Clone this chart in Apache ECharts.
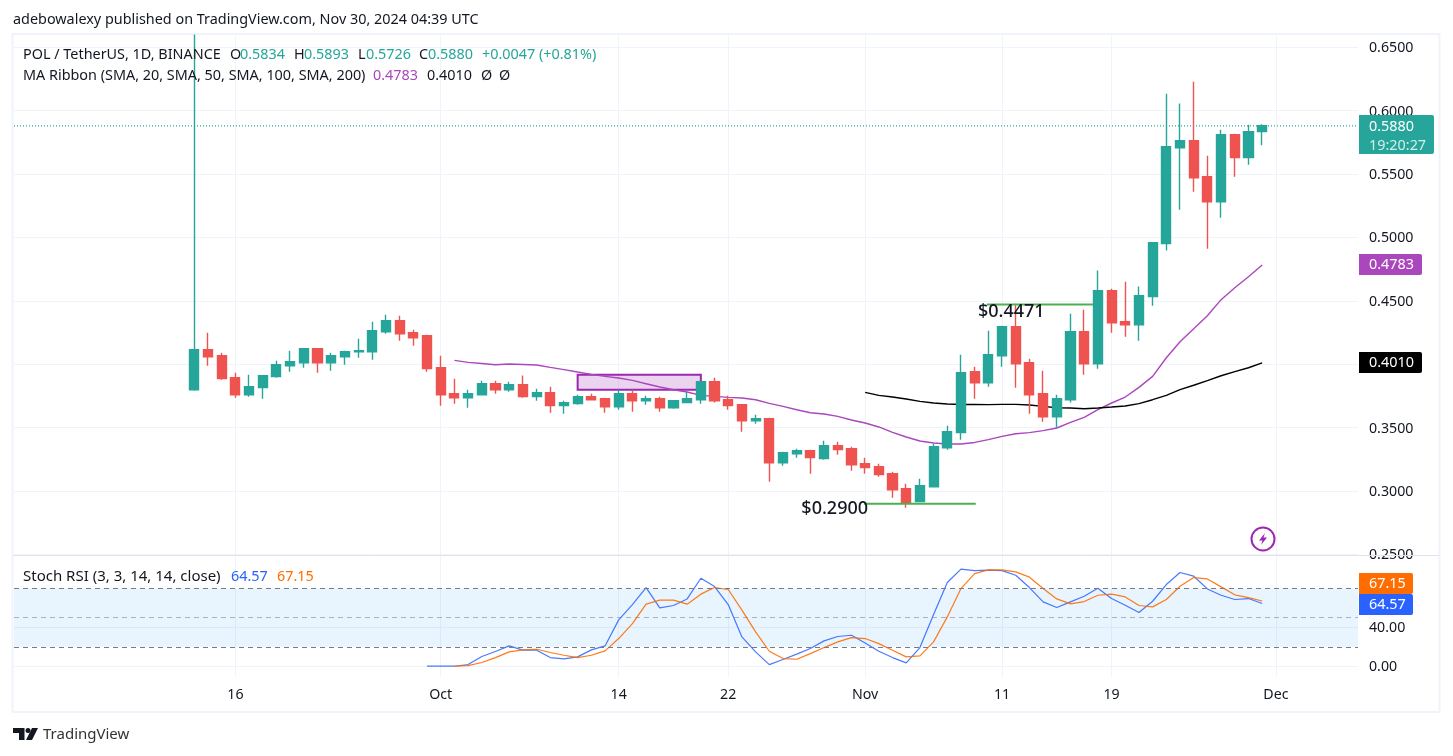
<!DOCTYPE html>
<html>
<head>
<meta charset="utf-8">
<title>POL / TetherUS, 1D</title>
<style>
  html, body { margin: 0; padding: 0; background: #fff; }
  #chart { width: 1453px; height: 756px; }
</style>
<script src="https://cdn.jsdelivr.net/npm/echarts@6/dist/echarts.min.js"></script>
</head>
<body>
<div id="chart"></div>
<script>
// Daily sessions run from Sep 13 (index 0) to Nov 30 (index 78).
const opens = [
  .3799,.4114,.4067,.3894,.3759,.3815,.3902,.3988,.4012,.4122,
  .4012,.4059,.4098,.4098,.4256,.4343,.4248,.4225,.3972,.3767,
  .3736,.3759,.3846,.3799,.3838,.3744,.3775,.3673,.3689,.3744,
  .3728,.3665,.3767,.3712,.3728,.3657,.3697,.3720,.3862,.3720,
  .3681,.3554,.3570,.3223,.3294,.3318,.3255,.3357,.3334,.3215,
  .3192,.3136,.3018,.2916,.3034,.3341,.3460,.3941,.3854,.4067,
  .4296,.4012,.3767,.3586,.3720,.4256,.4004,.4580,.4335,.4311,
  .4533,.4951,.5707,.5763,.5479,.5281,.5810,.5629,.5834
];
const closes = [
  .4114,.4059,.3886,.3759,.3823,.3910,.3996,.4020,.4122,.4012,
  .4067,.4098,.4106,.4264,.4343,.4240,.4209,.3965,.3759,.3736,
  .3767,.3846,.3799,.3838,.3744,.3775,.3673,.3697,.3744,.3720,
  .3665,.3767,.3712,.3728,.3657,.3712,.3728,.3862,.3712,.3673,
  .3554,.3570,.3223,.3302,.3318,.3263,.3357,.3326,.3207,.3184,
  .3129,.3010,.2907,.3042,.3349,.3467,.3933,.3854,.4075,.4296,
  .4004,.3759,.3586,.3728,.4256,.4004,.4580,.4327,.4311,.4541,
  .4959,.5715,.5763,.5471,.5281,.5810,.5629,.5833,.5880
];
const lows = [
  .3791,.3988,.3878,.3736,.3744,.3728,.3894,.3941,.3972,.3933,
  .3949,.3996,.4051,.4035,.4240,.4185,.4146,.3941,.3673,.3689,
  .3657,.3759,.3767,.3783,.3736,.3712,.3618,.3610,.3681,.3720,
  .3618,.3641,.3626,.3681,.3626,.3649,.3697,.3689,.3697,.3641,
  .3468,.3531,.3073,.3199,.3263,.3136,.3247,.3286,.3160,.3136,
  .3113,.2947,.2868,.2916,.3034,.3326,.3405,.3728,.3823,.3980,
  .3815,.3610,.3546,.3499,.3697,.3917,.3965,.4248,.4217,.4185,
  .4461,.4896,.5218,.5360,.4911,.5155,.5479,.5573,.5726
];
const highs = [
  .6600,.4248,.4091,.3933,.3917,.3910,.4028,.4106,.4122,.4122,
  .4091,.4106,.4201,.4335,.4390,.4382,.4272,.4233,.4067,.3886,
  .3799,.3870,.3870,.3862,.3910,.3807,.3823,.3712,.3759,.3767,
  .3736,.3799,.3799,.3751,.3744,.3712,.3783,.3862,.3894,.3751,
  .3681,.3602,.3578,.3310,.3334,.3326,.3397,.3389,.3349,.3263,
  .3215,.3152,.3057,.3097,.3373,.3515,.4075,.3980,.4264,.4304,
  .4477,.4043,.3949,.3759,.4398,.4430,.4738,.4596,.4651,.4612,
  .4959,.6133,.6055,.6228,.5644,.5849,.5818,.5889,.5893
];

// 20-day average, from Oct 2 (index 19)
const ma20Start = 19;
const ma20 = [
  .4030,.4014,.4006,.3996,.4002,.3998,.3994,.3975,.3957,.3938,
  .3920,.3904,.3891,.3872,.3846,.3820,.3799,.3781,.3754,.3746,
  .3738,.3734,.3720,.3691,.3667,.3641,.3617,.3607,.3589,.3560,
  .3536,.3505,.3462,.3426,.3394,.3379,.3371,.3371,.3383,.3405,
  .3431,.3452,.3460,.3476,.3497,.3541,.3580,.3641,.3694,.3741,
  .3817,.3904,.4051,.4177,.4280,.4382,.4509,.4603,.4690,.4783
];
// 50-day average, from Nov 1 (index 49)
const ma50Start = 49;
const ma50 = [
  .3778,.3754,.3741,.3726,.3707,.3694,.3686,.3682,.3683,.3681,
  .3683,.3683,.3678,.3667,.3657,.3655,.3649,.3655,.3662,.3670,
  .3689,.3720,.3754,.3799,.3834,.3870,.3909,.3941,.3972,.4010
];
// Stochastic RSI lines
const stochKStart = 17;
const stochK = [
  0,0,0,1.7,10,15.1,20.9,16.5,16.5,8.9,7.6,9.6,16.8,20.9,47.7,63.5,
  81,60.1,62.5,69.3,90.6,82,63.5,30.2,14.8,1.7,6.9,12.4,18.2,26.1,30.6,31.9,
  24,15.4,8.9,3.4,19.2,53.2,86.2,100,98.5,98.9,98.5,93.7,81,66.3,60.4,66.3,
  72.1,80.3,69.7,62.8,55.3,66.9,84.1,96.5,92.7,79.6,73.1,68.7,69.7,64.57
];
const stochDStart = 19;
const stochD = [
  0,.7,3.8,8.9,14.8,16.8,17.5,14.1,11.3,8.9,11.3,15.8,28.5,43.9,63.9,
  68,68,63.9,74.2,81,79,57.7,35.4,15.4,7.9,7.2,13,19.2,25.1,29.5,
  28.5,23.3,16.5,9.6,10.6,25.1,50.8,80,95.4,99.2,99.2,97.2,91.7,80,69.3,
  64.2,66.6,73.1,74.2,71.4,62.5,61.1,68.7,82.4,91.3,89.9,81.7,73.5,70.7,67.15
];

const dayTicks = [3, 18, 31, 39, 49, 59, 67, 79];
const dayLabels = ['16', 'Oct', '14', '22', 'Nov', '11', '19', 'Dec'];
const priceTicks = [0.25, 0.3, 0.35, 0.4, 0.45, 0.5, 0.55, 0.6, 0.65];
const stochTicks = [0, 40];
const swingLow = 0.29;
const swingHigh = 0.4471;

const UP = '#26a69a', DOWN = '#ef5350', VIOLET = '#ab47bc', BLUE = '#2962ff', ORANGE = '#ff6d00';
const GRID = '#f0f3fa', INK = '#131722';
const FONT = '"Noto Sans", sans-serif';

const offsetSeries = (values, start) => values.map((v, i) => [start + i, v]);
const candles = opens.map((o, i) => [i, o, closes[i], lows[i], highs[i]]);
const last = candles.length - 1;

const xLimits = { min: -13.17, max: 85.0 };
const commonX = {
  type: 'value', ...xLimits,
  axisLine: { show: false },
  axisTick: { show: false, customValues: dayTicks },
  splitLine: { show: true, lineStyle: { color: GRID, width: 1 } }
};
const priceMax = 0.65962, priceMin = 0.24953;
const scaleLabel = { margin: 11, color: INK, fontSize: 14.2, fontFamily: FONT, verticalAlign: 'top', padding: [-6, 0, 0, 0] };

const chart = echarts.init(document.getElementById('chart'), null, { renderer: 'canvas' });
const option = {
  animation: false,
  backgroundColor: '#fff',
  textStyle: { fontFamily: FONT },
  grid: [
    { left: 14, width: 1344, top: 35, height: 520 },
    { left: 14, width: 1344, top: 556, height: 121 }
  ],
  xAxis: [
    { ...commonX, gridIndex: 0, axisLabel: { show: false, customValues: dayTicks } },
    {
      ...commonX, gridIndex: 1,
      axisLabel: {
        show: true, customValues: dayTicks, margin: 11, color: INK, fontSize: 14.2, fontFamily: FONT,
        formatter: v => dayLabels[dayTicks.indexOf(v)]
      }
    }
  ],
  yAxis: [
    {
      type: 'value', gridIndex: 0, position: 'right', min: priceMin, max: priceMax, scale: true,
      axisLine: { show: false },
      axisTick: { show: false, customValues: priceTicks },
      axisLabel: { ...scaleLabel, customValues: priceTicks, formatter: v => v.toFixed(4) },
      splitLine: { show: true, lineStyle: { color: GRID, width: 1 } }
    },
    {
      type: 'value', gridIndex: 1, position: 'right', min: -11.1, max: 113.5,
      axisLine: { show: false },
      axisTick: { show: false, customValues: stochTicks },
      axisLabel: { ...scaleLabel, customValues: stochTicks, formatter: v => v.toFixed(2) },
      splitLine: { show: true, lineStyle: { color: GRID, width: 1 } }
    }
  ],
  series: [
    {
      name: 'MA 20', type: 'line', xAxisIndex: 0, yAxisIndex: 0, z: 2, showSymbol: false, silent: true,
      data: offsetSeries(ma20, ma20Start),
      lineStyle: { color: VIOLET, width: 1.4 },
      markArea: {
        silent: true,
        itemStyle: { color: 'rgba(156,39,176,0.2)', borderColor: '#9c27b0', borderWidth: 2 },
        data: [[{ coord: [28, 0.3917] }, { coord: [37, 0.3799] }]]
      }
    },
    {
      name: 'MA 50', type: 'line', xAxisIndex: 0, yAxisIndex: 0, z: 2, showSymbol: false, silent: true,
      data: offsetSeries(ma50, ma50Start),
      lineStyle: { color: '#000', width: 1.4 }
    },
    {
      name: 'Last price', type: 'line', xAxisIndex: 0, yAxisIndex: 0, z: 2, showSymbol: false, silent: true,
      data: [[xLimits.min, closes[last]], [xLimits.max, closes[last]]],
      lineStyle: { color: UP, type: [1, 2], width: 1.2 }
    },
    {
      name: 'POL / TetherUS', type: 'candlestick', xAxisIndex: 0, yAxisIndex: 0, z: 3, silent: true,
      barWidth: 9.6,
      data: candles,
      itemStyle: { color: UP, color0: DOWN, borderColor: UP, borderColor0: DOWN, borderWidth: 1.4 }
    },
    {
      name: 'Swing low', type: 'line', xAxisIndex: 0, yAxisIndex: 0, z: 4, showSymbol: false, silent: true,
      data: [[48.92, swingLow], [57.08, swingLow]],
      lineStyle: { color: '#4caf50', width: 2 }
    },
    {
      name: 'Swing high', type: 'line', xAxisIndex: 0, yAxisIndex: 0, z: 4, showSymbol: false, silent: true,
      data: [[57.9, swingHigh], [65.65, swingHigh]],
      lineStyle: { color: '#4caf50', width: 2 }
    },
    {
      name: '%K', type: 'line', xAxisIndex: 1, yAxisIndex: 1, z: 3, showSymbol: false, silent: true,
      data: offsetSeries(stochK, stochKStart),
      lineStyle: { color: BLUE, width: 1.2, opacity: 0.85 },
      markArea: {
        silent: true,
        itemStyle: { color: 'rgba(33,150,243,0.1)' },
        data: [[{ yAxis: 80 }, { yAxis: 20 }]]
      },
      markLine: {
        silent: true, symbol: 'none', label: { show: false },
        lineStyle: { type: [5, 4], width: 1, color: '#787b86' },
        data: [
          { yAxis: 80 },
          { yAxis: 20 },
          { yAxis: 50, lineStyle: { color: 'rgba(120,123,134,0.55)' } }
        ]
      }
    },
    {
      name: '%D', type: 'line', xAxisIndex: 1, yAxisIndex: 1, z: 4, showSymbol: false, silent: true,
      data: offsetSeries(stochD, stochDStart),
      lineStyle: { color: ORANGE, width: 1.2, opacity: 0.9 }
    }
  ]
};
chart.setOption(option);

// Text placed in page space
const label = (x, y, text, fill, size, extra) => ({
  type: 'text', x, y: y + 1, z: 50, silent: true,
  style: Object.assign({ text, fill, font: `${size || 14.4}px ${FONT}`, textVerticalAlign: 'middle' }, extra || {})
});

// Coloured value tag on the price scale
const tag = (top, width, height, bg, lines) => ([
  { type: 'rect', z: 40, silent: true, shape: { x: 1359, y: top, width, height, r: [0, 2, 2, 0] }, style: { fill: bg } },
  ...lines.map(l => label(1369, top + l.dy, l.text, l.fill || '#fff'))
]);

const priceY = p => chart.convertToPixel({ yAxisIndex: 0 }, p);
const stochY = v => chart.convertToPixel({ yAxisIndex: 1 }, v);
const dayX = d => chart.convertToPixel({ xAxisIndex: 0 }, d);
const fmt4 = v => v.toFixed(4);
const lastMa20 = ma20[ma20.length - 1], lastMa50 = ma50[ma50.length - 1];
const lastK = stochK[stochK.length - 1], lastD = stochD[stochD.length - 1];
const blueTop = Math.round(stochY(lastK)) - 10;

const graphic = [
  // pane frame and divider
  { type: 'rect', z: 1, silent: true, shape: { x: 12.5, y: 34, width: 1427, height: 678 }, style: { fill: 'none', stroke: GRID, lineWidth: 2 } },
  { type: 'line', z: 30, silent: true, shape: { x1: 13, y1: 555.5, x2: 1439, y2: 555.5 }, style: { stroke: '#e0e3eb', lineWidth: 1 } },

  label(13, 19, 'adebowalexy published on TradingView.com, Nov 30, 2024 04:39 UTC', INK),

  label(23, 54, 'POL / TetherUS, 1D, BINANCE', INK),
  label(230, 54, 'O', INK), label(240, 54, fmt4(opens[last]), UP),
  label(294, 54, 'H', INK), label(304, 54, fmt4(highs[last]), UP),
  label(358, 54, 'L', INK), label(366, 54, fmt4(lows[last]), UP),
  label(419, 54, 'C', INK), label(428, 54, fmt4(closes[last]), UP),
  label(482, 54, '+0.0047 (+0.81%)', UP),

  label(23, 75, 'MA Ribbon (SMA, 20, SMA, 50, SMA, 100, SMA, 200)', INK),
  label(373, 75, fmt4(lastMa20), VIOLET),
  label(427, 75, fmt4(lastMa50), INK),
  label(481, 75, 'Ø', INK), label(499, 75, 'Ø', INK),

  label(23, 576, 'Stoch RSI (3, 3, 14, 14, close)', INK, 15),
  label(231, 576, lastK.toFixed(2), BLUE),
  label(277, 576, lastD.toFixed(2), ORANGE),

  label(dayX(48.92) + 4, priceY(swingLow) + 4, '$0.2900', INK, 18, { textAlign: 'right', font: `500 18px ${FONT}` }),
  label(dayX(57.9) - 9, priceY(swingHigh) + 6, '$0.4471', INK, 18, { font: `500 18px ${FONT}` }),

  ...tag(Math.round(priceY(closes[last])) - 11, 75, 39, UP, [
    { dy: 11, text: fmt4(closes[last]) },
    { dy: 30, text: '19:20:27', fill: 'rgba(255,255,255,0.8)' }
  ]),
  ...tag(Math.round(priceY(lastMa20)) - 11, 63, 21, VIOLET, [{ dy: 10, text: fmt4(lastMa20) }]),
  ...tag(Math.round(priceY(lastMa50)) - 11, 63, 21, '#000', [{ dy: 10, text: fmt4(lastMa50) }]),
  ...tag(blueTop, 54, 21, BLUE, [{ dy: 10, text: lastK.toFixed(2) }]),
  ...tag(blueTop - 21, 54, 21, ORANGE, [{ dy: 10, text: lastD.toFixed(2) }]),

  // lightning badge
  { type: 'circle', z: 45, silent: true, shape: { cx: 1263, cy: 539, r: 11.5 }, style: { fill: '#fff', stroke: '#9c27b0', lineWidth: 2 } },
  { type: 'polygon', z: 46, silent: true, shape: { points: [[1265, 533], [1259, 540.5], [1262.5, 540.5], [1261, 545], [1267, 537.5], [1263.5, 537.5]] }, style: { fill: '#9c27b0' } },

  // footer mark and wordmark
  { type: 'polygon', z: 45, silent: true, shape: { points: [[13, 728], [24.5, 728], [24.5, 740], [19, 740], [19, 733], [13, 733]] }, style: { fill: INK } },
  { type: 'circle', z: 45, silent: true, shape: { cx: 28, cy: 730.6, r: 2.5 }, style: { fill: INK } },
  { type: 'polygon', z: 45, silent: true, shape: { points: [[32, 728], [38, 728], [32, 740], [26, 740]] }, style: { fill: INK } },
  label(43, 734, 'TradingView', '#333', 15)
];
chart.setOption({ graphic });
</script>
</body>
</html>
